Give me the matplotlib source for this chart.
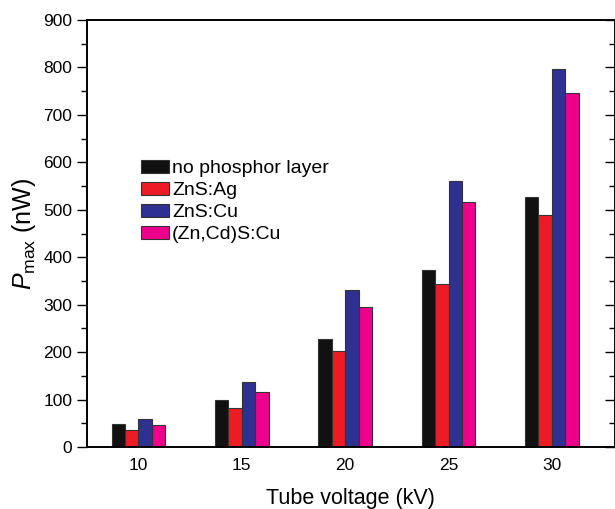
import matplotlib
matplotlib.use("Agg")
import matplotlib.pyplot as plt
import numpy as np
from matplotlib.ticker import MultipleLocator

# tube voltage categories (kV)
voltages = ["10", "15", "20", "25", "30"]
series_names = ["no phosphor layer", "ZnS:Ag", "ZnS:Cu", "(Zn,Cd)S:Cu"]
no_layer = [48, 100, 227, 374, 526]
zns_ag = [36, 83, 202, 343, 488]
zns_cu = [58, 136, 331, 560, 797]
zncds_cu = [47, 116, 296, 517, 746]
colors = ["#111111", "#ed1c24", "#2e3192", "#ec008c"]

plt.rcParams["font.family"] = ["Liberation Sans", "DejaVu Sans"]
plt.rcParams["mathtext.fontset"] = "custom"
plt.rcParams["mathtext.rm"] = "Liberation Sans"
plt.rcParams["mathtext.it"] = "Liberation Sans:italic"

fig = plt.figure(figsize=(6.15, 5.09), dpi=100)
ax = fig.add_axes([0.141, 0.1218, 0.859, 0.8389])

x = np.arange(len(voltages))
width = 0.13
data = [no_layer, zns_ag, zns_cu, zncds_cu]
for i, (vals, name, c) in enumerate(zip(data, series_names, colors)):
    ax.bar(x + (i - 1.5) * width, vals, width, color=c, edgecolor="#333333",
           linewidth=0.8, label=name)

ax.set_xlim(-0.5, 4.61)
ax.set_ylim(0, 900)
ax.set_xticks(x)
ax.set_xticklabels(voltages)
ax.yaxis.set_major_locator(MultipleLocator(100))
ax.yaxis.set_minor_locator(MultipleLocator(50))
ax.tick_params(axis="x", length=0, pad=8, labelsize=12.5)
ax.tick_params(axis="y", which="major", direction="out", length=7, width=1, labelsize=12.5)
ax.tick_params(axis="y", which="minor", direction="out", length=4, width=1)

# mirrored inward ticks on the right
ax2 = ax.twinx()
ax2.set_ylim(0, 900)
ax2.yaxis.set_major_locator(MultipleLocator(100))
ax2.yaxis.set_minor_locator(MultipleLocator(50))
ax2.tick_params(axis="y", which="major", direction="in", length=7, width=1, labelright=False)
ax2.tick_params(axis="y", which="minor", direction="in", length=4, width=1)

for a in (ax, ax2):
    for s in a.spines.values():
        s.set_linewidth(1.2)

ax.set_xlabel("Tube voltage (kV)", fontsize=15.5, labelpad=11)
ax.set_ylabel(r"$\mathit{P}_{\mathrm{max}}$ (nW)", fontsize=18, labelpad=4)

ax.legend(loc="upper left", bbox_to_anchor=(0.088, 0.69), frameon=False,
          fontsize=14, handlelength=1.45, handleheight=0.65, handletextpad=0.15,
          labelspacing=0.24, borderaxespad=0)

fig.savefig("out.png", dpi=100)
